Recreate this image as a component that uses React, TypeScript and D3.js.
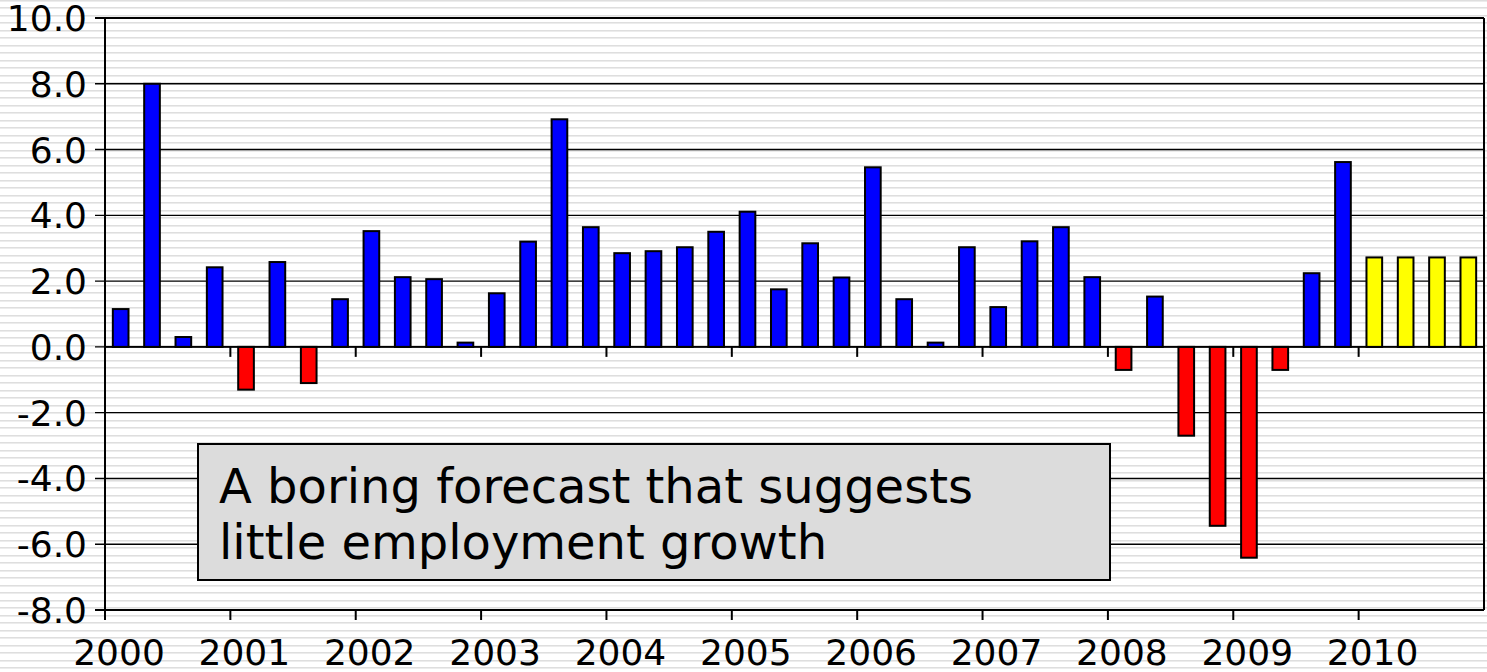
import { useEffect, useRef } from "react";
import * as d3 from "d3";

// Données : croissance trimestrielle de l'emploi (%)
const years = ["2000", "2001", "2002", "2003", "2004", "2005", "2006", "2007", "2008", "2009", "2010"];
const quarterLabels = years.flatMap((y) => ["Q1", "Q2", "Q3", "Q4"].map((q) => `${y} ${q}`));
const growth = [
  1.15, 8.0, 0.3, 2.42,
  -1.3, 2.58, -1.1, 1.45,
  3.52, 2.12, 2.06, 0.13,
  1.63, 3.2, 6.92, 3.64,
  2.85, 2.91, 3.03, 3.5,
  4.11, 1.75, 3.15, 2.11,
  5.46, 1.45, 0.13, 3.03,
  1.21, 3.21, 3.64, 2.12,
  -0.7, 1.53, -2.7, -5.44,
  -6.41, -0.7, 2.24, 5.62,
  2.72, 2.72, 2.72, 2.72,
];
const forecastYears = ["2010"];
const yTicks = [-8, -6, -4, -2, 0, 2, 4, 6, 8, 10];
const noteLines = ["A boring forecast that suggests", "little employment growth"];

const WIDTH = 1487;
const HEIGHT = 672;
const FONT = "'DejaVu Sans', Verdana, sans-serif";

export default function App() {
  const svgRef = useRef<SVGSVGElement>(null);

  useEffect(() => {
    if (!svgRef.current) return;
    const svg = d3.select(svgRef.current);
    svg.selectAll("*").remove();

    const left = 105;
    const right = 1484;
    const top = 18;
    const bottom = 610;

    const x = d3
      .scaleBand<string>()
      .domain(quarterLabels)
      .range([left, right])
      .paddingInner(0.5)
      .paddingOuter(0.25);
    const y = d3.scaleLinear().domain([-8, 10]).range([bottom, top]);
    const yearStep = x.step() * 4;

    // fond rayé (toute la page)
    const defs = svg.append("defs");
    const pat = defs
      .append("pattern")
      .attr("id", "stripes")
      .attr("patternUnits", "userSpaceOnUse")
      .attr("width", 10)
      .attr("height", 15);
    pat.append("rect").attr("width", 10).attr("height", 15).attr("fill", "#fff");
    pat.append("rect").attr("y", 0).attr("width", 10).attr("height", 1).attr("fill", "#dedede");
    pat.append("rect").attr("y", 1).attr("width", 10).attr("height", 1).attr("fill", "#ececec");
    pat.append("rect").attr("y", 7).attr("width", 10).attr("height", 1).attr("fill", "#dedede");
    pat.append("rect").attr("y", 8).attr("width", 10).attr("height", 1).attr("fill", "#ececec");

    svg.append("rect").attr("width", WIDTH).attr("height", HEIGHT).attr("fill", "url(#stripes)");

    // grille principale
    svg
      .append("g")
      .selectAll("line")
      .data(yTicks)
      .enter()
      .append("line")
      .attr("x1", left - 10)
      .attr("x2", right)
      .attr("y1", (d) => y(d))
      .attr("y2", (d) => y(d))
      .attr("stroke", "#000")
      .attr("stroke-width", (d) => (d === 10 ? 2 : 1.4));

    // graduations des années sur la ligne zéro et en bas
    const yearTicks = d3.range(years.length + 1).map((i) => left + i * yearStep);
    svg
      .append("g")
      .selectAll("line")
      .data(yearTicks.slice(1, -1))
      .enter()
      .append("line")
      .attr("x1", (d) => d)
      .attr("x2", (d) => d)
      .attr("y1", y(0))
      .attr("y2", y(0) + 10)
      .attr("stroke", "#000")
      .attr("stroke-width", 2);
    svg
      .append("g")
      .selectAll("line")
      .data(yearTicks.slice(0, -1))
      .enter()
      .append("line")
      .attr("x1", (d) => d)
      .attr("x2", (d) => d)
      .attr("y1", bottom)
      .attr("y2", bottom + 10)
      .attr("stroke", "#000")
      .attr("stroke-width", 2);

    // barres
    const color = (d: number, i: number) => {
      if (forecastYears.includes(quarterLabels[i].slice(0, 4))) return "#ffff00";
      return d < 0 ? "#ff0000" : "#0000ff";
    };
    svg
      .append("g")
      .selectAll("rect")
      .data(growth)
      .enter()
      .append("rect")
      .attr("x", (_, i) => x(quarterLabels[i])!)
      .attr("width", x.bandwidth())
      .attr("y", (d) => y(Math.max(0, d)))
      .attr("height", (d) => Math.abs(y(d) - y(0)))
      .attr("fill", (d, i) => color(d, i))
      .attr("stroke", "#000")
      .attr("stroke-width", 2);

    // axes
    svg
      .append("line")
      .attr("x1", left)
      .attr("x2", left)
      .attr("y1", top)
      .attr("y2", bottom + 10)
      .attr("stroke", "#000")
      .attr("stroke-width", 2);
    svg
      .append("line")
      .attr("x1", right)
      .attr("x2", right)
      .attr("y1", top)
      .attr("y2", bottom)
      .attr("stroke", "#000")
      .attr("stroke-width", 2);
    svg
      .append("line")
      .attr("x1", left - 10)
      .attr("x2", right)
      .attr("y1", bottom)
      .attr("y2", bottom)
      .attr("stroke", "#000")
      .attr("stroke-width", 2);
    svg
      .append("line")
      .attr("x1", left)
      .attr("x2", right)
      .attr("y1", y(0))
      .attr("y2", y(0))
      .attr("stroke", "#000")
      .attr("stroke-width", 1.6);

    // étiquettes Y
    svg
      .append("g")
      .selectAll("text")
      .data(yTicks)
      .enter()
      .append("text")
      .attr("x", 87)
      .attr("y", (d) => y(d))
      .attr("dy", "0.36em")
      .attr("text-anchor", "end")
      .style("font-family", FONT)
      .style("font-size", "36px")
      .style("fill", "#000")
      .text((d) => d.toFixed(1));

    // étiquettes X
    svg
      .append("g")
      .selectAll("text")
      .data(years)
      .enter()
      .append("text")
      .attr("x", (_, i) => left + i * yearStep + 14)
      .attr("y", 665)
      .attr("text-anchor", "middle")
      .style("font-family", FONT)
      .style("font-size", "36px")
      .style("fill", "#000")
      .text((d) => d);

    // encadré
    svg
      .append("rect")
      .attr("x", 198)
      .attr("y", 444)
      .attr("width", 912)
      .attr("height", 136)
      .attr("fill", "#dcdcdc")
      .attr("stroke", "#000")
      .attr("stroke-width", 2);
    svg
      .append("g")
      .selectAll("text")
      .data(noteLines)
      .enter()
      .append("text")
      .attr("x", 219)
      .attr("y", (_, i) => 503 + i * 56)
      .style("font-family", FONT)
      .style("font-size", "48px")
      .style("fill", "#000")
      .text((d) => d);
  }, []);

  return (
    <svg
      ref={svgRef}
      width={WIDTH}
      height={HEIGHT}
      style={{ position: "absolute", left: 0, top: 0, display: "block" }}
    />
  );
}
